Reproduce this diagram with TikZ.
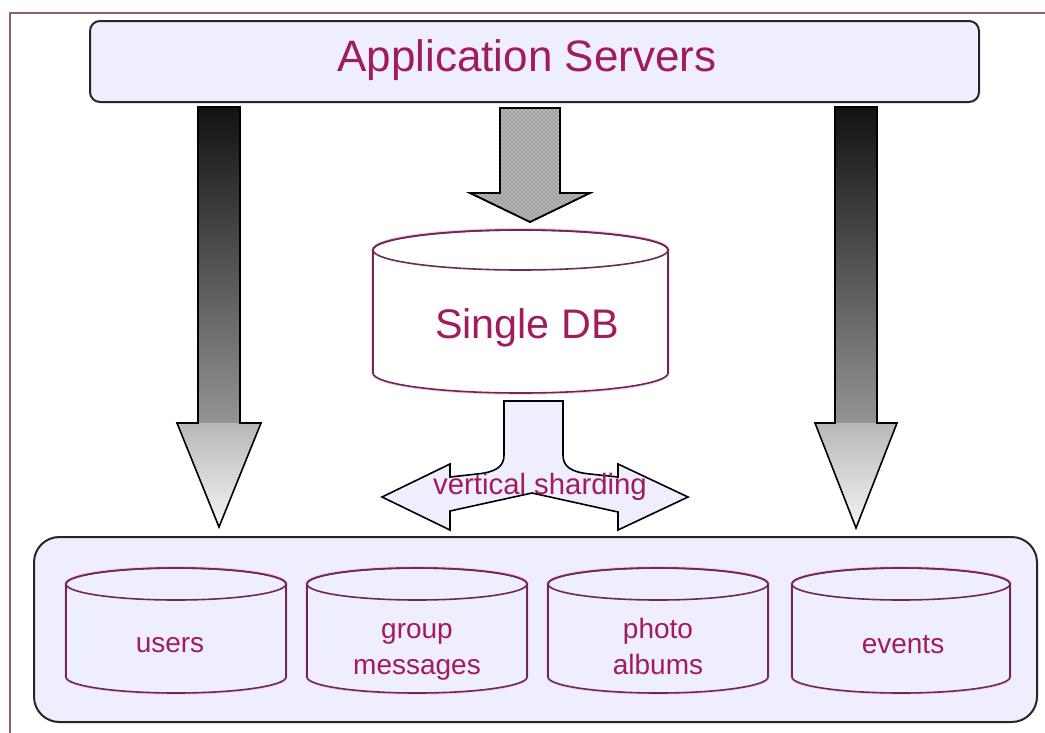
\documentclass[tikz,border=0pt]{standalone}
\usepackage{fontspec}
\setmainfont{Liberation Sans}
\usetikzlibrary{patterns}
\definecolor{txt}{RGB}{160,28,92}
\definecolor{cyl}{RGB}{110,40,85}
\definecolor{halo}{RGB}{248,200,232}
\definecolor{lav}{RGB}{238,238,255}
\definecolor{framec}{RGB}{140,100,100}
\newcommand\mycyl[6]{%
  \pgfmathsetmacro\cx{(#1+#2)/2}%
  \pgfmathsetmacro\rx{(#2-#1)/2}%
  \draw[halo, line width=2.6pt] (#1,#3) -- (#1,#5) arc[start angle=180,end angle=0,x radius=\rx,y radius=#4] -- (#2,#3) arc[start angle=0,end angle=-180,x radius=\rx,y radius=#4];
  \draw[halo, line width=2.6pt] (\cx,#3) ellipse[x radius=\rx, y radius=#4];
  \filldraw[fill=#6, cylline] (#1,#3) -- (#1,#5) arc[start angle=180,end angle=0,x radius=\rx,y radius=#4] -- (#2,#3) arc[start angle=0,end angle=-180,x radius=\rx,y radius=#4] -- cycle;
  \draw[cylline] (\cx,#3) ellipse[x radius=\rx, y radius=#4];
}
\begin{document}
\begin{tikzpicture}[x=0.75pt,y=-0.75pt,
  cylline/.style={draw=cyl, line width=1.2pt},
  label/.style={text=txt, inner sep=0pt, align=center},
  small/.style={label, font=\fontsize{21}{27}\selectfont},
  blk/.style={draw=black, line width=1.2pt, line join=miter}]
\useasboundingbox (0,0) rectangle (1045,732);
\fill[white] (0,0) rectangle (1045,732);
\draw[framec, line width=1.5pt] (10,745) -- (10,13) -- (1060,13);
% top box
\node[draw=black!85, fill=lav, rounded corners=7.5pt, line width=1.5pt,
      minimum width=666.75pt, minimum height=60.75pt, inner sep=0pt] (app) at (534.5,61.5) {};
\node[label, font=\fontsize{33}{38}\selectfont] (apptxt) at (527,60) {Application Servers};
% bottom container
\node[draw=black!85, fill=lav, rounded corners=19pt, line width=1.5pt,
      minimum width=752.25pt, minimum height=138.75pt, inner sep=0pt] (store) at (535.5,629.5) {};
% left gradient arrow
\shade[top color=black!93, bottom color=black!42] (198,107) rectangle (240,423);
\shade[top color=black!28, bottom color=black!4] (177,423) -- (261,423) -- (219,527) -- cycle;
\draw[blk] (198,107) -- (240,107) -- (240,423) -- (261,423) -- (219,527) -- (177,423) -- (198,423) -- cycle;
% right gradient arrow
\shade[top color=black!93, bottom color=black!42] (835,107) rectangle (877,423);
\shade[top color=black!28, bottom color=black!4] (815,423) -- (897,423) -- (856,528) -- cycle;
\draw[blk] (835,107) -- (877,107) -- (877,423) -- (897,423) -- (856,528) -- (815,423) -- (835,423) -- cycle;
% middle hatched arrow
\path[blk, fill=gray!75, postaction={pattern=crosshatch dots, pattern color=white}]
  (500,108) -- (560,108) -- (560,193) -- (590,193) -- (530,222) -- (470,193) -- (500,193) -- cycle;
\draw[blk] (500,108) -- (560,108) -- (560,193) -- (590,193) -- (530,222) -- (470,193) -- (500,193) -- cycle;
% single DB
\mycyl{373}{668}{250}{20}{373}{white}
\node[label, font=\fontsize{31}{36}\selectfont] (single) at (527,328) {Single DB};
% split arrow
\draw[blk, fill=lav]
  (504,401) -- (563,401) -- (563,455) .. controls (563,466) and (570,472) .. (590,474) -- (618,477)
  -- (618,464) -- (688,497) -- (618,530) -- (618,512) -- (532,493) -- (450,511) -- (450,530)
  -- (382,497) -- (450,464) -- (450,477) -- (477,474) .. controls (497,472) and (504,466) .. (504,455) -- cycle;
\node[label, font=\fontsize{22}{26}\selectfont] (vs) at (540,487) {vertical sharding};
% shards
\mycyl{66}{286}{584}{16}{677}{lav}
\mycyl{307}{527}{584}{16}{677}{lav}
\mycyl{548}{768}{584}{16}{677}{lav}
\mycyl{792}{1010}{584}{16}{677}{lav}
\node[small] (users) at (170,645) {users};
\node[small, anchor=base] (group) at (417,638) {group};
\node[small, anchor=base] (messages) at (417,674) {messages};
\node[small, anchor=base] (photo) at (658,638) {photo};
\node[small, anchor=base] (albums) at (658,674) {albums};
\node[small] (events) at (903,645) {events};
\end{tikzpicture}
\end{document}
